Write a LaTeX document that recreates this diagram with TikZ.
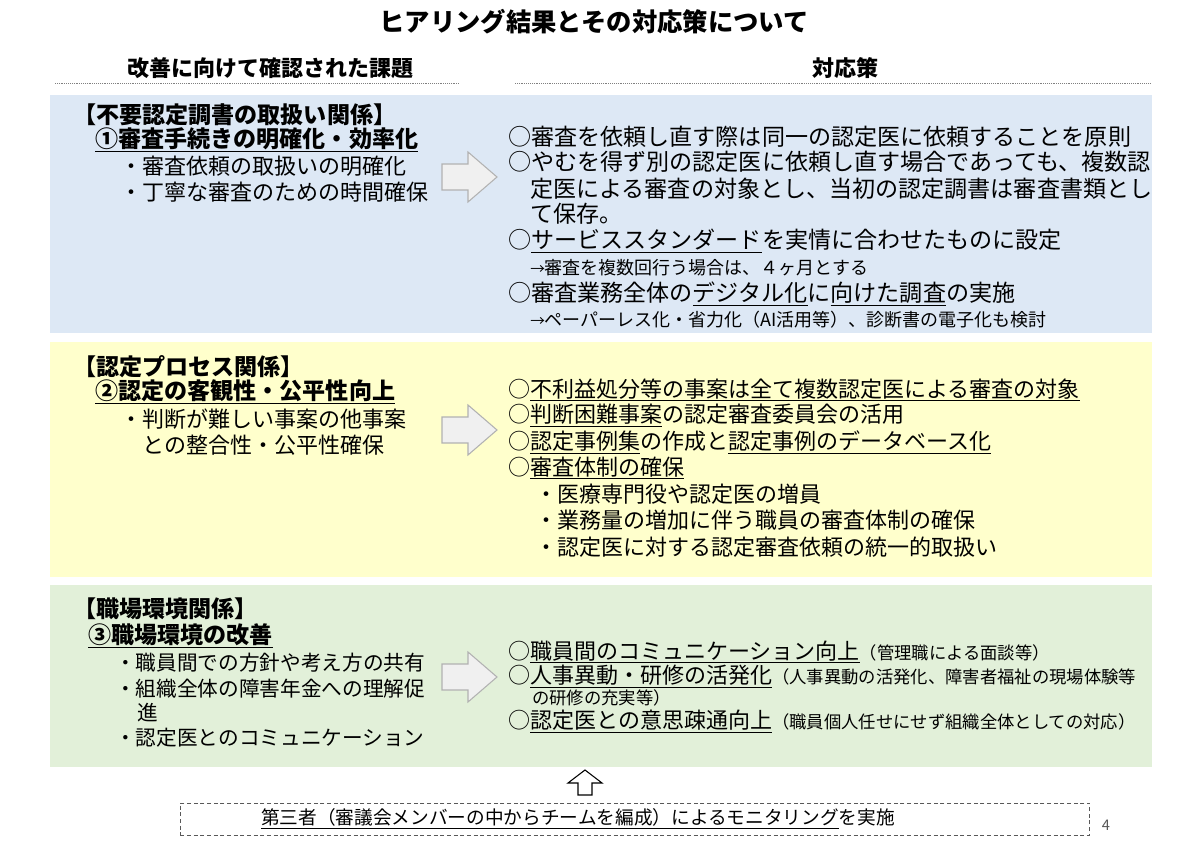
\documentclass[tikz,border=0pt]{standalone}
\usepackage{fontspec}
\setmainfont{Noto Sans CJK JP}
\newcommand{\ul}[1]{\underline{#1}}
\begin{document}
\begin{tikzpicture}[
                x=0.75pt, y=-0.75pt,
                txt/.style={anchor=west, inner sep=0pt, font=\fontsize{16.5pt}{18pt}\selectfont},
                big/.style={anchor=west, inner sep=0pt, font=\fontsize{17.3pt}{19pt}\selectfont},
                sml/.style={anchor=west, inner sep=0pt, font=\fontsize{13.5pt}{15pt}\selectfont},
                hd/.style={anchor=west, inner sep=0pt, font=\fontsize{17.3pt}{19pt}\selectfont\bfseries},
                band/.style={draw=none},
                blk/.style={fill=gray!12, draw=gray!60, line width=0.8pt}
            ]
                \useasboundingbox (0,0) rectangle (1200,848);
                % title and headers
                \node[font=\fontsize{19pt}{21pt}\selectfont\bfseries] (title) at (594,22) {ヒアリング結果とその対応策について};
                \node[font=\fontsize{16.5pt}{18pt}\selectfont\bfseries] (lhead) at (270,68) {改善に向けて確認された課題};
                \node[font=\fontsize{16.5pt}{18pt}\selectfont\bfseries] (rhead) at (845,68) {対応策};
                \draw[densely dotted, gray] (55,83) -- (460,83);
                \draw[densely dotted, gray] (515,83) -- (1150,83);
                % bands
                \fill[band, fill={rgb,255:red,221;green,232;blue,245}] (50,95) rectangle (1152,333);
                \fill[band, fill={rgb,255:red,255;green,255;blue,204}] (50,342) rectangle (1152,577);
                \fill[band, fill={rgb,255:red,226;green,240;blue,217}] (50,585) rectangle (1152,767);
                % block arrows
                \foreach \y in {177,430,677}
                    \draw[blk] (442,\y-13) -- (468,\y-13) -- (468,\y-25) -- (497,\y) -- (468,\y+25) -- (468,\y+13) -- (442,\y+13) -- cycle;
                % first band
                \node[hd] (a0) at (73,115) {【不要認定調書の取扱い関係】};
                \node[hd] (a1) at (95,140) {\ul{①審査手続きの明確化・効率化}};
                \node[txt] (a2) at (120,166) {・審査依頼の取扱いの明確化};
                \node[txt] (a3) at (120,192) {・丁寧な審査のための時間確保};
                \node[big] (b1) at (508,137) {○審査を依頼し直す際は同一の認定医に依頼することを原則};
                \node[big] (b2) at (508,162) {○やむを得ず別の認定医に依頼し直す場合であっても、複数認};
                \node[big] (b3) at (530,189) {定医による審査の対象とし、当初の認定調書は審査書類とし};
                \node[big] (b4) at (530,214) {て保存。};
                \node[big] (b5) at (508,241) {○\ul{サービススタンダード}を実情に合わせたものに設定};
                \node[sml] (b6) at (530,268) {{\fontsize{11pt}{12pt}\selectfont →}審査を複数回行う場合は、４ヶ月とする};
                \node[big] (b7) at (508,294) {○審査業務全体の\ul{デジタル化}に\ul{向けた調査}の実施};
                \node[sml] (b8) at (530,320) {{\fontsize{11pt}{12pt}\selectfont →}ペーパーレス化・省力化（AI活用等）、診断書の電子化も検討};
                % second band
                \node[hd] (c0) at (73,367) {【認定プロセス関係】};
                \node[hd] (c1) at (95,392) {\ul{②認定の客観性・公平性向上}};
                \node[txt] (c2) at (120,419) {・判断が難しい事案の他事案};
                \node[txt] (c3) at (142,445) {との整合性・公平性確保};
                \node[txt] (d1) at (508,390) {○\ul{不利益処分等の事案は全て複数認定医による審査の対象}};
                \node[txt] (d2) at (508,416) {○\ul{判断困難事案}の認定審査委員会の活用};
                \node[txt] (d3) at (508,442) {○\ul{認定事例集}の作成と\ul{認定事例のデータベース化}};
                \node[txt] (d4) at (508,468) {○\ul{審査体制の確保}};
                \node[txt] (d5) at (535,494) {・医療専門役や認定医の増員};
                \node[txt] (d6) at (535,520) {・業務量の増加に伴う職員の審査体制の確保};
                \node[txt] (d7) at (535,547) {・認定医に対する認定審査依頼の統一的取扱い};
                % third band
                \node[hd] (e0) at (73,609) {【職場環境関係】};
                \node[hd] (e1) at (88,636) {\ul{③職場環境の改善}};
                \node[txt, font=\fontsize{15.5pt}{17pt}\selectfont] (e2) at (115,663) {・職員間での方針や考え方の共有};
                \node[txt, font=\fontsize{15.5pt}{17pt}\selectfont] (e3) at (115,689) {・組織全体の障害年金への理解促};
                \node[txt, font=\fontsize{15.5pt}{17pt}\selectfont] (e4) at (137,713) {進};
                \node[txt, font=\fontsize{15.5pt}{17pt}\selectfont] (e5) at (115,738) {・認定医とのコミュニケーション};
                \node[txt] (f1) at (508,652) {○\ul{職員間のコミュニケーション向上}{\fontsize{13pt}{15pt}\selectfont （管理職による面談等）}};
                \node[txt] (f2) at (508,677) {○\ul{人事異動・研修の活発化}{\fontsize{13pt}{15pt}\selectfont （人事異動の活発化、障害者福祉の現場体験等}};
                \node[sml, font=\fontsize{13pt}{15pt}\selectfont] (f3) at (532,698) {の研修の充実等）};
                \node[txt] (f4) at (508,722) {○\ul{認定医との意思疎通向上}{\fontsize{13pt}{15pt}\selectfont （職員個人任せにせず組織全体としての対応）}};
                % monitoring
                \draw[line width=0.8pt] (578,795) -- (592,795) -- (592,783) -- (602,783) -- (585,770) -- (568,783) -- (578,783) -- cycle;
                \node[draw, densely dashed, gray!70!black, minimum width=682pt, minimum height=24pt, inner sep=0pt] (mon) at (635,819) {};
                \node[text=black, font=\fontsize{14pt}{16pt}\selectfont] (montxt) at (578,819) {\ul{第三者（審議会メンバーの中からチームを編成）によるモニタリング}を実施};
                \node[font=\fontsize{11pt}{13pt}\selectfont, text=gray!70!black] (page) at (1106,825) {4};
            \end{tikzpicture}
\end{document}
